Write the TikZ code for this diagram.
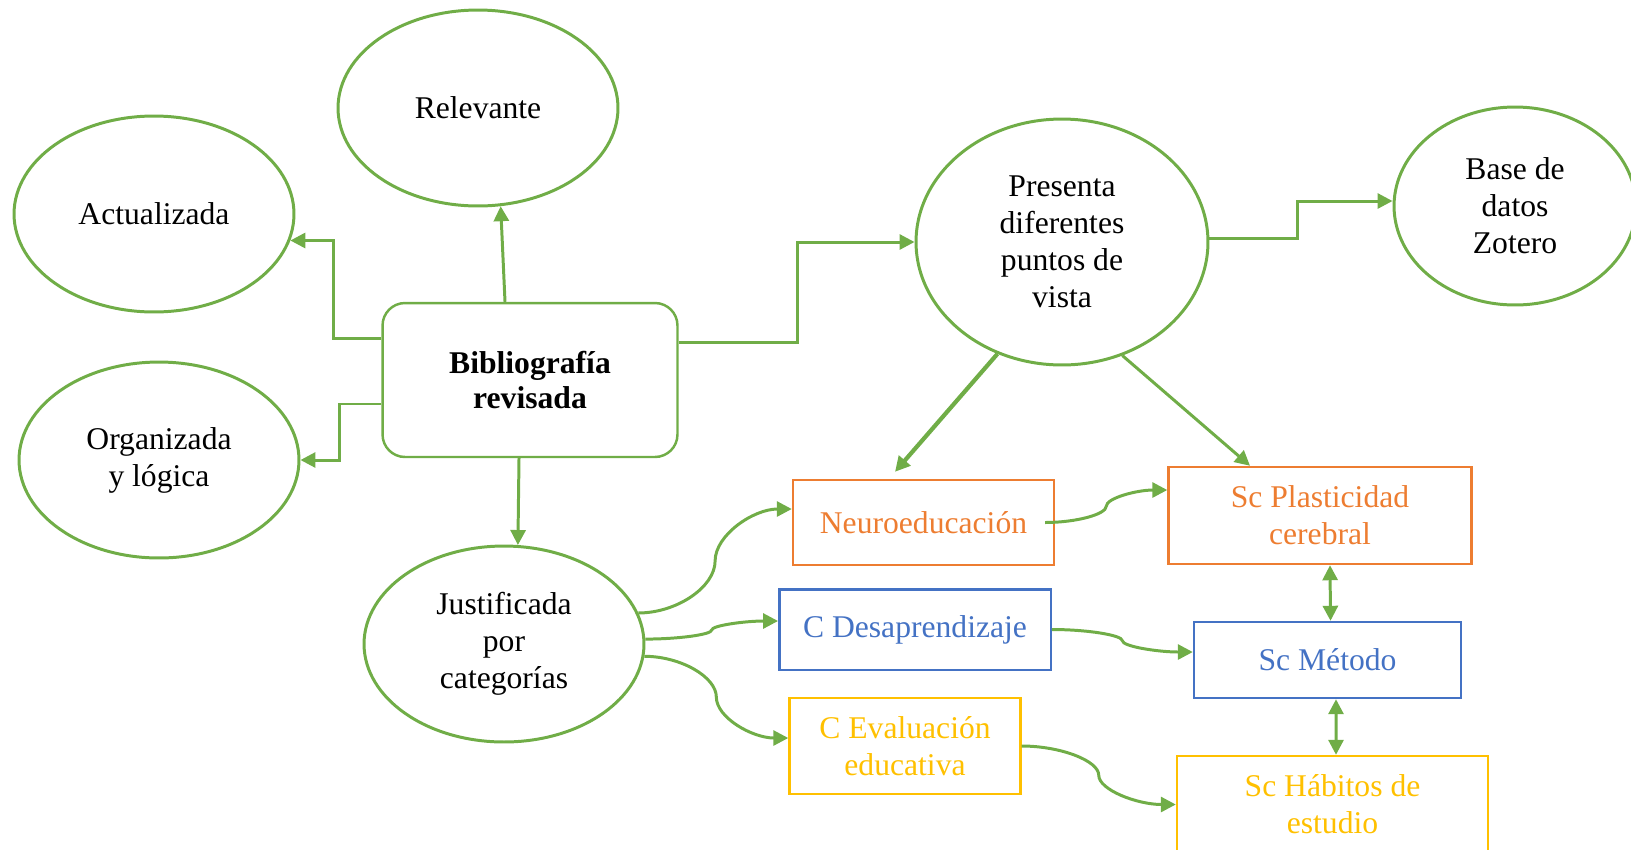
\documentclass[tikz,border=0pt]{standalone}
\usepackage{fontspec}
\setmainfont{Liberation Serif}
\usetikzlibrary{shapes.geometric, arrows.meta, calc}

\definecolor{verde}{HTML}{70AD47}
\definecolor{naranja}{HTML}{ED7D31}
\definecolor{azul}{HTML}{4472C4}
\definecolor{amarillo}{HTML}{FFC000}

\begin{document}
\begin{tikzpicture}[x=0.02cm, y=-0.02cm,
    every node/.style={font=\fontsize{18}{21}\selectfont, align=center, inner sep=0pt},
    elipse/.style={ellipse, draw=verde, line width=1.7pt, minimum width=5.6cm, minimum height=3.92cm},
    caja/.style={rectangle, line width=1.4pt},
    flecha/.style={draw=verde, line width=1.7pt, -{Triangle[length=0.3cm, width=0.3cm]}},
    doble/.style={draw=verde, line width=1.7pt, {Triangle[length=0.3cm, width=0.3cm]}-{Triangle[length=0.3cm, width=0.3cm]}},
    curva/.style={to path={let \p1=(\tikztostart), \p2=(\tikztotarget) in
        .. controls (0.75*\x1+0.25*\x2, \y1) and (0.5*\x1+0.5*\x2, 0.75*\y1+0.25*\y2)
        .. (0.5*\x1+0.5*\x2, 0.5*\y1+0.5*\y2)
        .. controls (0.5*\x1+0.5*\x2, 0.25*\y1+0.75*\y2) and (0.25*\x1+0.75*\x2, \y2)
        .. (\tikztotarget) \tikztonodes}}]

    \useasboundingbox (0,0) rectangle (1631,849);

    % -- Centro: Bibliografia revisada --
    \node[draw=verde, line width=1.4pt, rounded corners=0.45cm, minimum width=5.9cm, minimum height=3.08cm,
          font=\fontsize{18}{20}\selectfont\bfseries] (bib) at (530,380) {Bibliografía\\revisada};

    % -- Elipses verdes --
    \node[elipse] (rel) at (478,108) {Relevante};
    \node[elipse] (act) at (154,214) {Actualizada};
    \node[elipse] (org) at (159,460) {Organizada\\y lógica};
    \node[elipse] (just) at (504,644) {Justificada\\por\\categorías};
    \node[elipse, minimum width=5.84cm, minimum height=4.92cm] (pres) at (1062,242) {Presenta\\diferentes\\puntos de\\vista};
    \node[elipse, minimum width=4.84cm, minimum height=3.96cm] (base) at (1515,206) {Base de\\datos\\Zotero};

    % -- Categorias y subcategorias --
    \node[caja, draw=naranja, text=naranja, minimum width=5.22cm, minimum height=1.7cm] (neuro) at (923.5,522.5) {Neuroeducación};
    \node[caja, draw=azul, text=azul, minimum width=5.43cm, minimum height=1.61cm] (desa) at (915,629.5) {C Desaprendizaje};
    \node[caja, draw=amarillo, text=amarillo, minimum width=4.62cm, minimum height=1.92cm] (evalu) at (905,746) {C Evaluación\\educativa};
    \node[caja, draw=naranja, text=naranja, minimum width=6.06cm, minimum height=1.94cm] (plast) at (1320,515.5) {Sc Plasticidad\\cerebral};
    \node[caja, draw=azul, text=azul, minimum width=5.34cm, minimum height=1.52cm] (met) at (1327.5,660) {Sc Método};
    \node[caja, draw=amarillo, text=amarillo, minimum width=6.22cm, minimum height=1.94cm] (hab) at (1332.5,804.5) {Sc Hábitos de\\estudio};

    % -- Flechas desde la bibliografia --
    \draw[flecha] ([xshift=-0.5cm]bib.north) -- (rel.-77);
    \draw[flecha] ([yshift=0.84cm]bib.west) -- ++(-48,0) |- (act.-11);
    \draw[flecha] ([yshift=-0.48cm]bib.west) -- ++(-42,0) |- (org.east);
    \draw[flecha] ([xshift=-0.22cm]bib.south) -- (just.82);
    \draw[flecha] ([yshift=0.76cm]bib.east) -- ++(119,0) |- (pres.west);

    % -- Presenta diferentes puntos de vista --
    \draw[flecha] ([yshift=0.08cm]pres.east) -- ++(88,0) |- ([yshift=0.1cm]base.west);
    \draw[flecha, line width=2.4pt] (pres.-120) -- ([xshift=-0.57cm,yshift=0.14cm]neuro.north);
    \draw[flecha] (pres.-62) -- ([xshift=-1.4cm]plast.north);

    % -- Conectores curvos --
    \draw[flecha] (just.13) to[curva] ([yshift=0.27cm]neuro.west);
    \draw[flecha] (just.2) to[curva] ([yshift=0.17cm]desa.west);
    \draw[flecha] (just.-5) to[curva] ([yshift=0.16cm]evalu.west);
    \draw[flecha] ([xshift=-0.2cm]neuro.east) to[curva] ([yshift=0.51cm]plast.west);
    \draw[flecha] (desa.east) to[curva] ([yshift=0.16cm]met.west);
    \draw[flecha] (evalu.east) to[curva] (hab.west);

    % -- Subcategorias entre si --
    \draw[doble] ([xshift=0.2cm]plast.south) -- ([xshift=0.06cm]met.north);
    \draw[doble] ([xshift=0.17cm]met.south) -- ([xshift=0.07cm]hab.north);
\end{tikzpicture}
\end{document}
